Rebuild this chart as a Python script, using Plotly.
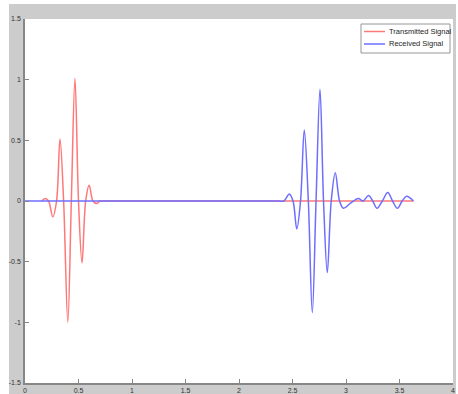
import plotly.graph_objects as go

# Transmitted signal (red) – extrema and zero crossings
tx_t = [0.155, 0.19, 0.22, 0.26, 0.295, 0.327, 0.361, 0.40, 0.433, 0.467, 0.50,
        0.533, 0.567, 0.60, 0.635, 0.67, 0.70, 0.72, 2.37, 2.40, 3.61, 3.63]
tx_v = [0.0, 0.02, 0.0, -0.13, 0.0, 0.51, 0.0, -1.0, 0.0, 1.01, 0.0,
        -0.51, 0.0, 0.13, 0.0, -0.02, 0.0, 0.0, 0.0, 0.0, 0.0, 0.0]

# Received signal (blue)
rx_t = [0.0, 0.02, 2.35, 2.37, 2.42, 2.47, 2.505, 2.54, 2.575, 2.61, 2.648, 2.685,
        2.72, 2.757, 2.79, 2.825, 2.862, 2.90, 2.94, 2.975, 3.04, 3.115, 3.16,
        3.21, 3.25, 3.29, 3.34, 3.39, 3.435, 3.48, 3.525, 3.567, 3.63]
rx_v = [0.0, 0.0, 0.0, 0.0, 0.0, 0.058, 0.0, -0.23, 0.0, 0.585, 0.0, -0.92,
        0.0, 0.92, 0.0, -0.59, 0.0, 0.233, 0.0, -0.06, -0.02, 0.02, 0.0,
        0.045, 0.0, -0.06, 0.0, 0.07, 0.0, -0.06, 0.0, 0.04, 0.0]

series_names = ["Transmitted Signal", "Received Signal"]
series_colors = ["rgb(255,120,120)", "rgb(110,110,255)"]

x_ticks = [0, 0.5, 1, 1.5, 2, 2.5, 3, 3.5, 4]
x_labels = ["0", "0.5", "1", "1.5", "2", "2.5", "3", "3.5", "4"]
y_ticks = [-1.5, -1, -0.5, 0, 0.5, 1, 1.5]
y_labels = ["-1.5", "-1", "-0.5", "0", "0.5", "1", "1.5"]

FONT = "Liberation Sans Narrow, Liberation Sans, Arial, sans-serif"
GRAY = "rgb(204,204,204)"
AXIS = "rgb(135,135,135)"

fig = go.Figure()
fig.add_trace(go.Scatter(x=tx_t, y=tx_v, mode="lines", name=series_names[0],
                         showlegend=False,
                         line=dict(color=series_colors[0], width=1.5,
                                   shape="spline", smoothing=1.0)))
fig.add_trace(go.Scatter(x=rx_t, y=rx_v, mode="lines", name=series_names[1],
                         showlegend=False,
                         line=dict(color=series_colors[1], width=1.5,
                                   shape="spline", smoothing=1.0)))

W, H = 458, 394
ml, mr, mt, mb = 25, 5, 19, 11
pw, ph = W - ml - mr, H - mt - mb

def px_x(px):
    return (px - ml) / pw

def px_y(py):
    return (H - mb - py) / ph

shapes = [
    dict(type="rect", xref="paper", yref="paper", layer="below",
         x0=px_x(9), x1=px_x(456), y0=px_y(394), y1=px_y(4),
         fillcolor=GRAY, line=dict(width=0)),
    dict(type="rect", xref="paper", yref="paper", layer="below",
         x0=0, x1=1, y0=0, y1=1,
         fillcolor="white", line=dict(width=0)),
    # legend box
    dict(type="rect", xref="paper", yref="paper", layer="above",
         x0=px_x(361), x1=px_x(450), y0=px_y(53), y1=px_y(24),
         fillcolor="white", line=dict(color="rgb(150,150,150)", width=1)),
]
annotations = []
leg_rows = [31.5, 44]
for name, color, row in zip(series_names, series_colors, leg_rows):
    shapes.append(dict(type="line", xref="paper", yref="paper", layer="above",
                       x0=px_x(364), x1=px_x(385), y0=px_y(row), y1=px_y(row),
                       line=dict(color=color, width=1.5)))
    annotations.append(dict(text=name, xref="paper", yref="paper",
                            x=px_x(386.5), y=px_y(row), xanchor="left", yanchor="middle",
                            showarrow=False,
                            font=dict(family=FONT, size=7.5, color="rgb(30,30,30)")))

axis_common = dict(showgrid=False, zeroline=False, showline=True, linecolor=AXIS,
                   linewidth=1.5, ticks="inside", ticklen=4, tickcolor=AXIS,
                   tickfont=dict(family=FONT, size=7, color="rgb(50,50,50)"),
                   automargin=False, fixedrange=True)

fig.update_layout(
    width=W, height=H,
    margin=dict(l=ml, r=mr, t=mt, b=mb, pad=0),
    paper_bgcolor="white", plot_bgcolor="white",
    shapes=shapes, annotations=annotations,
    xaxis=dict(range=[0, 4], tickvals=x_ticks, ticktext=x_labels, ticklabelstandoff=0,
               **axis_common),
    yaxis=dict(range=[-1.5, 1.5], tickvals=y_ticks, ticktext=y_labels, ticklabelstandoff=1,
               **axis_common),
    showlegend=False,
)

fig.write_html("out.html", config={"displayModeBar": False},
               post_script="document.body.style.margin='0';document.body.style.overflow='hidden';")
